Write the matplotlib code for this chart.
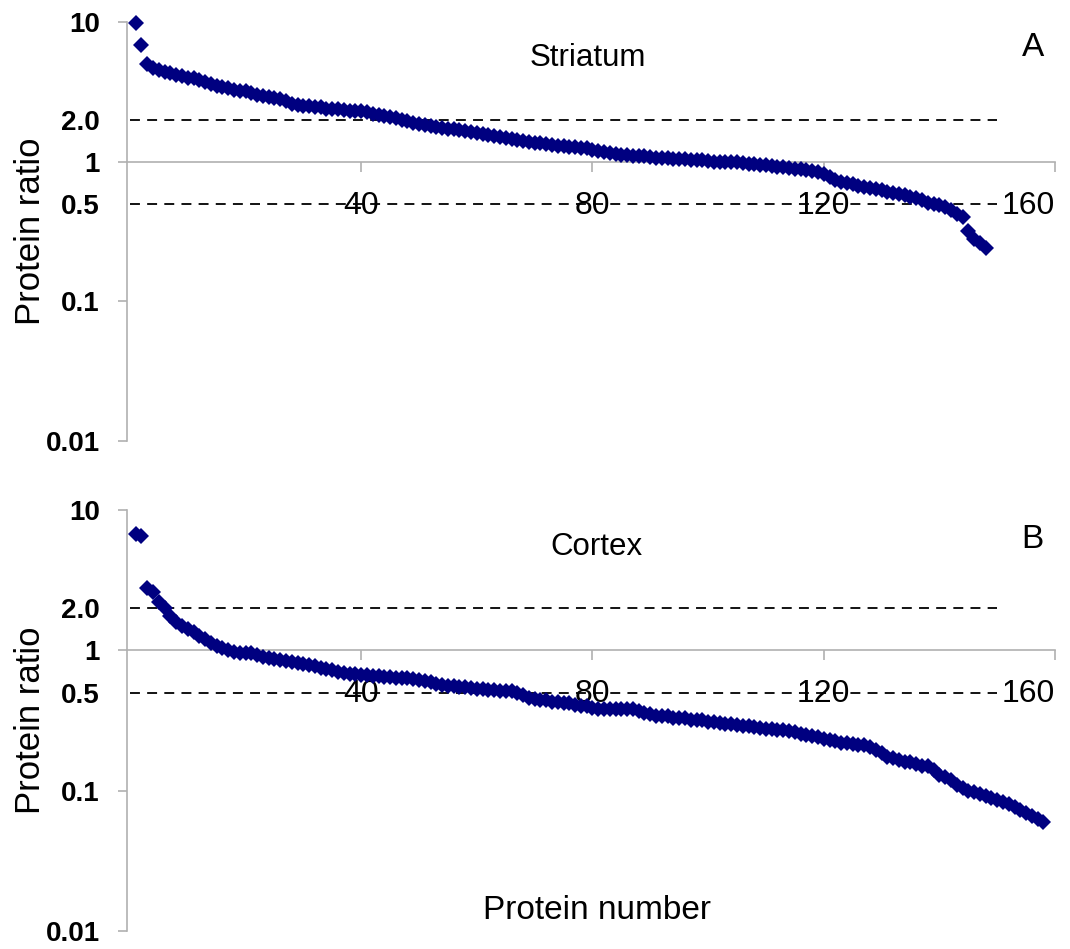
import matplotlib
matplotlib.use('Agg')
import matplotlib.pyplot as plt
from matplotlib.ticker import FixedLocator, FixedFormatter

plt.rcParams['font.family'] = ['Liberation Sans', 'DejaVu Sans']

# ---- data ----
striatum = [
    9.8, 6.9, 5.0, 4.7, 4.5, 4.4, 4.3, 4.2, 4.1, 4.0,
    3.95, 3.85, 3.7, 3.6, 3.5, 3.45, 3.35, 3.25, 3.2, 3.2,
    3.1, 3.0, 2.95, 2.9, 2.85, 2.8, 2.7, 2.6, 2.55, 2.5,
    2.5, 2.45, 2.45, 2.4, 2.4, 2.38, 2.35, 2.32, 2.3, 2.3,
    2.25, 2.2, 2.15, 2.12, 2.1, 2.05, 2.0, 1.95, 1.9, 1.85,
    1.82, 1.8, 1.78, 1.75, 1.72, 1.7, 1.68, 1.65, 1.62, 1.6,
    1.58, 1.55, 1.52, 1.5, 1.47, 1.45, 1.42, 1.4, 1.38, 1.36,
    1.35, 1.33, 1.32, 1.3, 1.3, 1.28, 1.27, 1.26, 1.25, 1.22,
    1.2, 1.18, 1.16, 1.14, 1.12, 1.11, 1.1, 1.1, 1.09, 1.08,
    1.07, 1.06, 1.06, 1.05, 1.05, 1.04, 1.03, 1.02, 1.02, 1.01,
    1.0, 1.0, 1.0, 0.99, 0.99, 0.98, 0.97, 0.96, 0.95, 0.94,
    0.93, 0.92, 0.91, 0.9, 0.89, 0.88, 0.87, 0.86, 0.84, 0.82,
    0.78, 0.74, 0.72, 0.7, 0.69, 0.67, 0.66, 0.65, 0.64, 0.63,
    0.61, 0.6, 0.59, 0.58, 0.56, 0.55, 0.53, 0.51, 0.5, 0.49,
    0.47, 0.45, 0.42, 0.4, 0.32, 0.28, 0.26, 0.24,
]

cortex = [
    6.7, 6.5, 2.8, 2.6, 2.2, 2.0, 1.75, 1.6, 1.5, 1.42,
    1.35, 1.27, 1.2, 1.12, 1.08, 1.04, 1.0, 0.98, 0.96, 0.95,
    0.95, 0.93, 0.9, 0.88, 0.87, 0.86, 0.84, 0.83, 0.81, 0.8,
    0.78, 0.77, 0.75, 0.73, 0.72, 0.7, 0.69, 0.68, 0.68, 0.67,
    0.67, 0.66, 0.66, 0.65, 0.65, 0.64, 0.64, 0.63, 0.62, 0.61,
    0.6, 0.59, 0.58, 0.57, 0.56, 0.56, 0.55, 0.55, 0.54, 0.53,
    0.53, 0.52, 0.52, 0.51, 0.51, 0.51, 0.5, 0.48, 0.46, 0.45,
    0.44, 0.44, 0.43, 0.43, 0.42, 0.42, 0.41, 0.4, 0.4, 0.39,
    0.38, 0.38, 0.38, 0.38, 0.38, 0.38, 0.38, 0.37, 0.36, 0.35,
    0.34, 0.34, 0.34, 0.33, 0.33, 0.33, 0.32, 0.32, 0.32, 0.31,
    0.31, 0.305, 0.3, 0.3, 0.295, 0.29, 0.29, 0.285, 0.28, 0.275,
    0.275, 0.27, 0.27, 0.265, 0.26, 0.255, 0.25, 0.245, 0.24, 0.235,
    0.23, 0.225, 0.22, 0.22, 0.215, 0.21, 0.21, 0.205, 0.195, 0.185,
    0.175, 0.17, 0.165, 0.16, 0.16, 0.155, 0.15, 0.15, 0.14, 0.13,
    0.125, 0.12, 0.11, 0.105, 0.1, 0.097, 0.094, 0.091, 0.088, 0.086,
    0.083, 0.08, 0.077, 0.073, 0.069, 0.066, 0.063, 0.06,
]

panels = [('Striatum', 'A', striatum), ('Cortex', 'B', cortex)]
cutoffs = [2.0, 0.5]
cutoff_x = [0, 150]
x_ticks = [40, 80, 120, 160]
y_major = [0.01, 0.1, 1, 10]
y_major_labels = ['0.01', '0.1', '1', '10']
y_minor = [0.5, 2.0]
y_minor_labels = ['0.5', '2.0']

GRAY = '#b0b0b0'
NAVY = '#000080'

fig = plt.figure(figsize=(10.7, 9.49), dpi=100)
boxes = [[0.1187, 0.5353, 0.8673, 0.4415], [0.1187, 0.0190, 0.8673, 0.4436]]
# title / panel-letter positions (axes fraction)
name_pos = [(0.497, 0.915), (0.506, 0.912)]
letter_pos = [(0.976, 0.94), (0.976, 0.929)]

for i, ((name, letter, vals), box) in enumerate(zip(panels, boxes)):
    ax = fig.add_axes(box)
    xs = list(range(1, len(vals) + 1))
    ax.set_yscale('log')
    ax.set_ylim(0.01, 10)
    ax.set_xlim(-0.5, 160)

    for c in cutoffs:
        ax.plot(cutoff_x, [c, c], color='black', linestyle=(0, (5.5, 4)),
                linewidth=1.3, zorder=3)
    ax.plot(xs, vals, linestyle='none', marker='D', markersize=7.8,
            color=NAVY, markeredgewidth=0, zorder=4, clip_on=False)

    for s in ['top', 'right']:
        ax.spines[s].set_visible(False)
    for s in ['left', 'bottom']:
        ax.spines[s].set_color(GRAY)
        ax.spines[s].set_linewidth(1.2)
    ax.spines['bottom'].set_position(('data', 1))

    ax.set_xticks(x_ticks)
    ax.tick_params(axis='x', direction='out', length=7, width=1.2, color=GRAY,
                   labelsize=23, pad=14, labelcolor='black')
    # last label is pulled inside the figure, as in the original
    ax.get_xticklabels()[-1].set_ha('right')

    ax.yaxis.set_major_locator(FixedLocator(y_major))
    ax.yaxis.set_major_formatter(FixedFormatter(y_major_labels))
    ax.yaxis.set_minor_locator(FixedLocator(y_minor))
    ax.yaxis.set_minor_formatter(FixedFormatter(y_minor_labels))
    ax.tick_params(axis='y', which='major', direction='out', length=6.5,
                   width=1.2, color=GRAY, pad=13)
    ax.tick_params(axis='y', which='minor', length=0, pad=19.5)
    for lab in ax.get_yticklabels(which='both'):
        lab.set_fontsize(20)
        lab.set_fontweight('bold')

    ax.set_ylabel('Protein ratio', fontsize=25)
    ax.yaxis.set_label_coords(-0.086, 0.5)
    ax.text(*name_pos[i], name, transform=ax.transAxes, fontsize=22.5,
            ha='center', va='center')
    ax.text(*letter_pos[i], letter, transform=ax.transAxes, fontsize=24,
            ha='center', va='center')

fig.text(0.558, 0.041, 'Protein number', fontsize=24, ha='center', va='center')

plt.savefig('out.png', dpi=100)
plt.close()
